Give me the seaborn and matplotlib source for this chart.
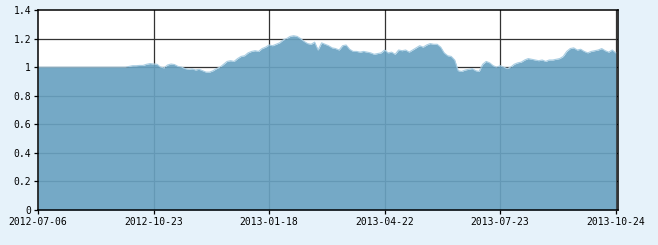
import matplotlib
matplotlib.use("Agg")
import matplotlib.pyplot as plt
import seaborn as sns
import numpy as np
import pandas as pd

# Net value series (sampled every 2 trading days)
values = [
    1.0, 1.0, 1.0, 1.0, 1.0, 1.0, 1.0, 1.0, 1.0, 1.0,
    1.0, 1.0, 1.0, 1.0, 1.0, 1.0, 1.0, 1.0, 1.0, 1.0,
    1.0, 1.0, 1.0, 1.0, 1.0, 1.0, 1.005, 1.01, 1.01, 1.012,
    1.012, 1.02, 1.025, 1.022, 1.02, 1.0, 0.995, 1.015, 1.022, 1.018,
    1.005, 1.0, 0.99, 0.985, 0.988, 0.98, 0.985, 0.975, 0.965, 0.965,
    0.975, 0.99, 1.0, 1.02, 1.04, 1.045, 1.04, 1.06, 1.075, 1.08,
    1.10, 1.11, 1.115, 1.11, 1.13, 1.14, 1.155, 1.15, 1.16, 1.17,
    1.19, 1.20, 1.215, 1.22, 1.215, 1.20, 1.18, 1.165, 1.16, 1.175,
    1.12, 1.17, 1.16, 1.15, 1.135, 1.13, 1.12, 1.15, 1.155, 1.125,
    1.11, 1.11, 1.105, 1.11, 1.105, 1.10, 1.09, 1.095, 1.10, 1.12,
    1.10, 1.105, 1.09, 1.12, 1.115, 1.12, 1.105, 1.12, 1.135, 1.15,
    1.14, 1.155, 1.165, 1.16, 1.16, 1.14, 1.10, 1.08, 1.075, 1.05,
    0.975, 0.97, 0.98, 0.985, 0.99, 0.975, 0.97, 1.02, 1.04, 1.03,
    1.01, 1.0, 1.01, 1.0, 0.99, 1.0, 1.02, 1.03, 1.035, 1.05,
    1.06, 1.055, 1.05, 1.045, 1.05, 1.04, 1.05, 1.05, 1.055, 1.06,
    1.075, 1.11, 1.13, 1.135, 1.12, 1.125, 1.11, 1.10, 1.11, 1.115,
    1.12, 1.13, 1.115, 1.105, 1.12, 1.10,
]
step = 2  # trading days between samples
tick_labels = ["2012-07-06", "2012-10-23", "2013-01-18",
               "2013-04-22", "2013-07-23", "2013-10-24"]
tick_positions = [0, 66, 132, 198, 264, 330]
y_ticks = [0, 0.2, 0.4, 0.6, 0.8, 1.0, 1.2, 1.4]
y_labels = ["0", "0.2", "0.4", "0.6", "0.8", "1", "1.2", "1.4"]

df = pd.DataFrame({"day": np.arange(len(values)) * step, "value": values})

bg = "#E6F2FA"
fig = plt.figure(figsize=(6.58, 2.45), dpi=100, facecolor=bg)
ax = fig.add_axes([38 / 658, 35 / 245, 580 / 658, 200 / 245])
ax.set_facecolor("white")

for yt in y_ticks[1:-1]:
    ax.axhline(yt, color="#333333", lw=0.9, zorder=1)
for xt in tick_positions[1:]:
    ax.axvline(xt, color="#333333", lw=0.9, zorder=1)

ax.fill_between(df["day"], 0, df["value"], color="#69A2C1", alpha=0.92,
                lw=0, zorder=2)
sns.lineplot(data=df, x="day", y="value", ax=ax, color="#A9CDE2",
             lw=0.8, zorder=3)

ax.set_xlim(0, 331.3)
ax.set_ylim(0, 1.4)
ax.set_xticks(tick_positions)
ax.set_xticklabels(tick_labels)
ax.set_yticks(y_ticks)
ax.set_yticklabels(y_labels)
ax.set_xlabel("")
ax.set_ylabel("")
for lab in ax.get_xticklabels() + ax.get_yticklabels():
    lab.set_fontfamily("DejaVu Sans Mono")
    lab.set_fontsize(7)
    lab.set_color("black")
ax.tick_params(axis="both", direction="out", length=3, width=0.9,
               color="black", pad=2)
for s in ax.spines.values():
    s.set_color("black")
    s.set_linewidth(1.1)
    s.set_zorder(5)

fig.savefig("out.png", dpi=100, facecolor=bg)
